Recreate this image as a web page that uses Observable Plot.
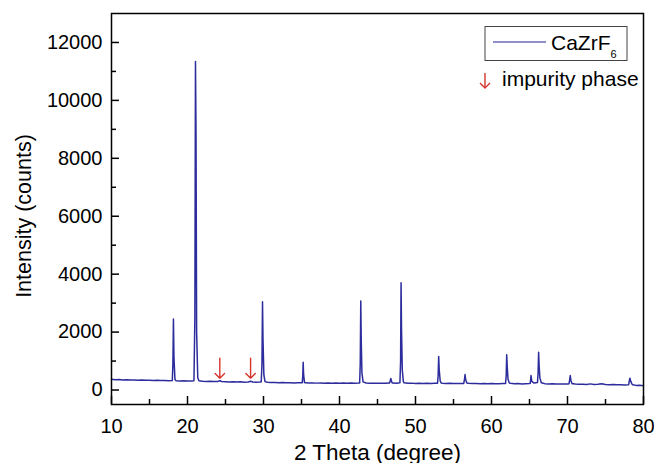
<!DOCTYPE html>
<html>
<head>
<meta charset="utf-8">
<script src="https://cdn.jsdelivr.net/npm/d3@7"></script>
<script src="https://cdn.jsdelivr.net/npm/@observablehq/plot@0.6"></script>
<style>
  html, body { margin: 0; padding: 0; background: #fff; }
  #chart { width: 654px; height: 463px; }
</style>
</head>
<body>
<div id="chart"></div>
<script>
// ---- Data ----
// background of the diffraction pattern: [2θ (degree), intensity (counts)]
const background = [
  [10.0,368],[10.5,356],[11.0,362],[11.5,350],[12.0,356],[12.5,345],[13.0,350],[13.5,340],[14.0,346],[14.5,335],
  [15.0,340],[15.5,330],[16.0,336],[16.5,325],[17.0,331],[17.5,322],[18.0,326],
  [18.5,318],[19.0,312],[19.5,318],[20.0,308],[20.5,314],[21.5,318],[22.0,305],[22.5,298],[23.0,304],[23.5,292],
  [24.0,298],[24.25,318],[24.5,296],[25.0,288],[25.5,280],[26.0,286],[26.5,276],[27.0,282],[27.5,272],[28.0,278],
  [28.3,300],[28.6,276],[29.0,268],[29.5,275],
  [30.5,268],[31.0,258],[31.5,263],[32.0,253],[32.5,258],[33.0,249],[33.5,254],[34.0,245],[34.5,251],[35.0,255],
  [35.5,247],[36.0,240],[36.5,246],[37.0,238],[37.5,244],[38.0,236],[38.5,242],[39.0,234],[39.5,240],[40.0,235],
  [40.5,241],[41.0,233],[41.5,239],[42.0,231],[42.5,240],
  [43.5,242],[44.0,232],[44.5,238],[45.0,230],[45.5,236],[46.0,232],[46.5,245],[47.0,240],[47.5,236],
  [48.5,250],[49.0,233],[49.5,238],[50.0,228],[50.5,234],[51.0,226],[51.5,232],[52.0,224],[52.5,232],
  [53.5,236],[54.0,226],[54.5,231],[55.0,222],[55.5,228],[56.0,224],[57.0,232],[57.5,222],[58.0,228],[58.5,218],
  [59.0,224],[59.5,216],[60.0,222],[60.5,214],[61.0,220],[61.5,226],
  [62.5,232],[63.0,217],[63.5,222],[64.0,212],[64.5,218],[65.0,226],[65.6,240],[66.8,236],[67.0,220],[67.5,210],
  [68.0,216],[68.5,206],[69.0,212],[69.5,204],[70.0,210],[70.8,214],[71.0,204],[71.5,197],[72.0,202],[72.5,194],
  [73.0,212],[73.5,194],[74.0,199],[74.5,214],[75.0,190],[75.5,185],[76.0,190],[76.5,180],[77.0,185],[77.5,176],
  [78.0,182],[78.6,180],[79.0,160],[79.5,162],[80.0,150]
];
// diffraction peak profiles: [2θ (degree), intensity (counts)]
const peakPoints = [
  [17.95,330],[18.08,900],[18.15,2450],[18.22,1100],[18.35,360],
  [20.85,320],[20.97,2500],[21.05,11340],[21.12,8900],[21.2,2000],[21.35,420],
  [29.7,282],[29.8,900],[29.87,3050],[29.93,1800],[30.05,520],[30.2,290],
  [35.1,255],[35.17,500],[35.22,960],[35.28,520],[35.4,258],
  [42.65,245],[42.73,900],[42.8,3070],[42.86,1700],[42.95,600],[43.1,280],
  [46.6,245],[46.75,400],[46.9,255],
  [47.95,250],[48.04,1000],[48.1,3700],[48.16,2100],[48.26,700],[48.4,290],
  [52.9,235],[52.98,500],[53.05,1160],[53.12,700],[53.25,310],[53.4,240],
  [56.35,228],[56.45,380],[56.52,535],[56.6,360],[56.75,240],
  [61.85,228],[61.94,520],[62.0,1215],[62.07,800],[62.17,380],[62.35,238],
  [65.1,235],[65.2,500],[65.3,300],
  [66.05,262],[66.13,600],[66.2,1305],[66.27,820],[66.37,420],[66.55,250],
  [70.2,215],[70.3,380],[70.36,500],[70.45,330],[70.6,218],
  [78.05,190],[78.16,350],[78.22,410],[78.32,300],[78.5,200]
];
// impurity phase markers
const impurityX = [24.25, 28.3];
const arrowTop = 1100;
const arrowTip = 410;

// axis ticks and labels
const xMajor = [10, 20, 30, 40, 50, 60, 70, 80];
const xMinor = [15, 25, 35, 45, 55, 65, 75];
const yMajor = [0, 2000, 4000, 6000, 8000, 10000, 12000];
const yMinor = [1000, 3000, 5000, 7000, 9000, 11000];
const xTitle = "2 Theta (degree)";
const yTitle = "Intensity (counts)";
const seriesName = "CaZrF";
const seriesSub = "6";
const markerName = "impurity phase";

// ---- Build table ----
const pattern = background.concat(peakPoints)
  .map(([t, c]) => ({t, c}))
  .sort((a, b) => a.t - b.t);

const W = 654, H = 463;
const mTop = 13, mRight = 11, mBottom = 59, mLeft = 111;
const plotW = W - mLeft - mRight, plotH = H - mTop - mBottom;
const lineColor = "#2c2c9c";
const red = "#d6342b";
const font = "'Liberation Sans', Arial, sans-serif";

const chart = Plot.plot({
  width: W, height: H,
  marginTop: mTop, marginRight: mRight, marginBottom: mBottom, marginLeft: mLeft,
  style: {fontFamily: font, fontSize: "20px", color: "#000", background: "#fff", overflow: "visible"},
  x: {domain: [10, 80], label: null},
  y: {domain: [-500, 13000], label: null},
  marks: [
    Plot.line(pattern, {x: "t", y: "c", stroke: lineColor, strokeWidth: 1.5}),
    Plot.arrow(impurityX, {x1: d => d, x2: d => d, y1: () => arrowTop, y2: () => arrowTip,
      stroke: red, strokeWidth: 1.4, headLength: 8, headAngle: 90}),
    Plot.tickX(xMajor, {x: d => d, insetTop: plotH - 8, stroke: "#000", strokeWidth: 1.5}),
    Plot.tickX(xMinor, {x: d => d, insetTop: plotH - 5, stroke: "#000", strokeWidth: 1.5}),
    Plot.tickY(yMajor, {y: d => d, insetRight: plotW - 8, stroke: "#000", strokeWidth: 1.5}),
    Plot.tickY(yMinor, {y: d => d, insetRight: plotW - 5, stroke: "#000", strokeWidth: 1.5}),
    Plot.axisX(xMajor, {tickSize: 0, tickPadding: 14, label: null, tickFormat: d => String(d), fontSize: 20}),
    Plot.axisY(yMajor, {tickSize: 0, tickPadding: 9, label: null, tickFormat: d => String(d), fontSize: 20}),
    Plot.frame({stroke: "#000", strokeWidth: 1.5}),
    Plot.text([xTitle], {text: d => d, frameAnchor: "bottom", dy: 55, lineAnchor: "bottom", fontSize: 22.5})
  ]
});

document.getElementById("chart").appendChild(chart);

const svg = d3.select(chart);
// ---- Y axis title ----
svg.append("text")
  .attr("transform", "translate(31,216) rotate(-90)")
  .attr("text-anchor", "middle")
  .attr("font-family", font).attr("font-size", 21.5).attr("fill", "#000")
  .text(yTitle);

// ---- Legend inside the plot area ----
const lg = svg.append("g").attr("font-family", font).attr("text-anchor", "start");
lg.append("rect").attr("x", 485).attr("y", 26.5).attr("width", 142).attr("height", 34)
  .attr("fill", "#fff").attr("stroke", "#444").attr("stroke-width", 1);
lg.append("line").attr("x1", 493).attr("x2", 546).attr("y1", 42).attr("y2", 42)
  .attr("stroke", "#6a6ab8").attr("stroke-width", 1.3);
const t1 = lg.append("text").attr("x", 551).attr("y", 49.5).attr("font-size", 21)
  .attr("fill", "#000").attr("text-anchor", "start");
t1.append("tspan").text(seriesName);
t1.append("tspan").attr("font-size", 11).attr("dy", 8).text(seriesSub);
// legend arrow symbol
lg.append("line").attr("x1", 485).attr("x2", 485).attr("y1", 73).attr("y2", 88)
  .attr("stroke", red).attr("stroke-width", 1.4);
lg.append("path").attr("d", "M480,83 L485,88 L490,83").attr("fill", "none")
  .attr("stroke", red).attr("stroke-width", 1.4);
lg.append("text").attr("x", 502).attr("y", 86).attr("font-size", 21)
  .attr("fill", "#000").attr("text-anchor", "start").text(markerName);
</script>
</body>
</html>
